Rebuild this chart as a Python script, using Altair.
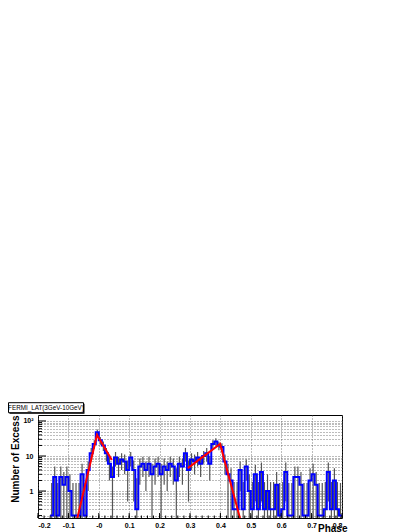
import altair as alt
import pandas as pd

# ---- data ----
bin_width = 0.01
first_edge = -0.16
counts = [
    0.2, 2.5, 0.2, 2.5, 1.5, 2.5, 1, 0.2, 0.2, 0.2, 3, 0.2,
    4, 12, 22, 48, 28, 20, 12, 6, 2.5, 9, 6, 8, 7, 4,
    9, 4, 0.3, 5, 6, 4, 6, 3, 5, 6, 3, 5, 4, 6, 5, 2, 6, 5,
    12, 4, 8, 7, 9, 6, 10, 12, 6, 22, 26, 20, 18, 7, 3, 2, 0.3, 0.3,
    4, 0.3, 5, 1, 0.3, 3, 0.3, 3.5, 0.3, 1, 0.3, 0.3, 1.5, 0.2, 0.3, 3.5, 0.2,
    0.2, 2.5, 2.5, 1.5, 0.2, 0.2, 2, 3, 1.5, 0.2, 0.2, 0.3, 3.5, 0.3, 2, 0.3, 0.2,
]
errors = [
    1.5, 2.5, 1.5, 2.5, 2, 2.5, 2, 1.5, 1.5, 1.5, 3, 1.5,
    3, 5, 6, 9, 7, 6, 5, 4, 2.5, 4, 3.5, 4, 4, 3.5,
    4, 3.5, 2, 3.5, 3.5, 3, 3.5, 3, 3.5, 3.5, 3, 3.5, 3, 3.5, 3.5, 2.5, 3.5, 3.5,
    5, 3.5, 4, 4, 4, 3.5, 4, 5, 4, 6, 6, 5.5, 5, 4, 3, 2.5, 1.5, 1.5,
    3, 1.5, 3, 2, 1.5, 2.5, 1.5, 3, 1.5, 2, 1.5, 1.5, 2, 1.5, 1.5, 3, 1.5,
    1.5, 2.5, 2.5, 2, 1.5, 1.5, 2.5, 3, 2, 1.5, 1.5, 1.5, 3, 1.5, 2.5, 1.5, 1.5,
]
fit1_phase = [-0.072, -0.006, 0.043]
fit1_value = [0.15, 40, 7.7]
fit2_phase = [0.293, 0.399, 0.466]
fit2_value = [4.5, 22, 0.15]
x_ticks = [-0.2, -0.1, 0.0, 0.1, 0.2, 0.3, 0.4, 0.5, 0.6, 0.7, 0.8]
x_minor = [round(-0.2 + 0.02 * i, 2) for i in range(51)]
y_major = [1, 10, 100]
y_minor = [0.2, 0.3, 0.4, 0.5, 0.6, 0.7, 0.8, 0.9,
           2, 3, 4, 5, 6, 7, 8, 9,
           20, 30, 40, 50, 60, 70, 80, 90]
title_text = "FERMI_LAT(3GeV-10GeV)"

W, H = 304, 103
FONT = "Liberation Sans"

# ---- tables ----
edges = [round(first_edge + bin_width * i, 3) for i in range(len(counts))]
step_df = pd.DataFrame({
    "phase": edges + [round(edges[-1] + bin_width, 3)],
    "n": counts + [counts[-1]],
})
err_df = pd.DataFrame({
    "phase": [e + bin_width / 2 for e in edges],
    "n": [max(c - e, 0.05) for c, e in zip(counts, errors)],
    "hi": [c + e for c, e in zip(counts, errors)],
})
fit_df = pd.DataFrame({
    "phase": fit1_phase + fit2_phase,
    "n": fit1_value + fit2_value,
    "seg": ["a"] * len(fit1_phase) + ["b"] * len(fit2_phase),
})

xs = alt.Scale(domain=[-0.2, 0.8], nice=False, zero=False)
ys = alt.Scale(type="log", domain=[0.17, 148], nice=False)

x_label_expr = ("abs(datum.value) < 1e-9 ? '-0' : (datum.value < 0 ? '-' + format(-datum.value, '.1f') "
                ": format(datum.value, '.1f'))")
y_label_expr = "datum.value == 1 ? '1' : (datum.value == 10 ? '10' : (datum.value == 100 ? '10²' : ''))"

grid_style = dict(grid=True, gridColor="#555", gridDash=[1, 2], gridWidth=0.8,
                  ticks=False, domain=False, labelFont=FONT, labelFontWeight="bold",
                  labelFontSize=7, labelColor="black")

X_AXIS = alt.Axis(values=x_ticks, labelExpr=x_label_expr, labelPadding=3,
                  title="Phase", titleFont=FONT, titleFontWeight="bold", titleFontSize=10,
                  titleX=309, titleY=13, titleAlign="right", titleBaseline="alphabetic",
                  **grid_style)
Y_AXIS = alt.Axis(values=y_major + y_minor, labelExpr=y_label_expr, labelPadding=5,
                  title="Number of Excess", titleFont=FONT, titleFontWeight="bold",
                  titleFontSize=10, titleX=-23, titleY=0, titleAngle=270,
                  titleAlign="right", titleBaseline="middle", **grid_style)

errbars = alt.Chart(err_df).mark_rule(color="#555", strokeWidth=1.2, clip=True).encode(
    x=alt.X("phase:Q", scale=xs, axis=X_AXIS),
    y=alt.Y("n:Q", scale=ys, axis=Y_AXIS),
    y2="hi:Q",
)

hist = alt.Chart(step_df).mark_line(interpolate="step-after", color="#0000ff",
                                    strokeWidth=2, clip=True).encode(
    x=alt.X("phase:Q", scale=xs, axis=X_AXIS),
    y=alt.Y("n:Q", scale=ys, axis=Y_AXIS),
)

fit = alt.Chart(fit_df).mark_line(color="#ff0000", strokeWidth=2, clip=True).encode(
    x=alt.X("phase:Q", scale=xs, axis=X_AXIS),
    y=alt.Y("n:Q", scale=ys, axis=Y_AXIS),
    detail="seg:N",
)

ymaj = alt.Chart(pd.DataFrame({"n": y_major})).mark_rule(color="black", strokeWidth=1).encode(
    y=alt.Y("n:Q", scale=ys, axis=Y_AXIS), x=alt.value(0), x2=alt.value(8))
ymin = alt.Chart(pd.DataFrame({"n": y_minor})).mark_rule(color="black", strokeWidth=1).encode(
    y=alt.Y("n:Q", scale=ys, axis=Y_AXIS), x=alt.value(0), x2=alt.value(4))
xmaj = alt.Chart(pd.DataFrame({"phase": x_ticks})).mark_rule(color="black", strokeWidth=1).encode(
    x=alt.X("phase:Q", scale=xs, axis=X_AXIS), y=alt.value(H), y2=alt.value(H - 5))
xmin = alt.Chart(pd.DataFrame({"phase": x_minor})).mark_rule(color="black", strokeWidth=1).encode(
    x=alt.X("phase:Q", scale=xs, axis=X_AXIS), y=alt.value(H), y2=alt.value(H - 2.5))

one = pd.DataFrame({"t": [title_text]})
shadow = alt.Chart(one).mark_rect(fill="black").encode(
    x=alt.value(-28.5), x2=alt.value(46.5), y=alt.value(-11.3), y2=alt.value(-1.3))
box = alt.Chart(one).mark_rect(fill="white", stroke="black", strokeWidth=1).encode(
    x=alt.value(-29.5), x2=alt.value(45.5), y=alt.value(-12.3), y2=alt.value(-2.3))
label = alt.Chart(one).mark_text(font=FONT, fontSize=6.3, align="center", baseline="middle",
                                 color="black").encode(
    text="t:N", x=alt.value(8), y=alt.value(-7.3))

chart = alt.layer(errbars, hist, fit, ymaj, ymin, xmaj, xmin, shadow, box, label).properties(
    width=W, height=H,
    autosize=alt.AutoSizeParams(type="none"),
    padding={"left": 30, "top": 407, "right": 60, "bottom": 16},
).configure_view(stroke="black", strokeWidth=1)

chart.save("out.html", embed_options={"renderer": "svg", "actions": False})
